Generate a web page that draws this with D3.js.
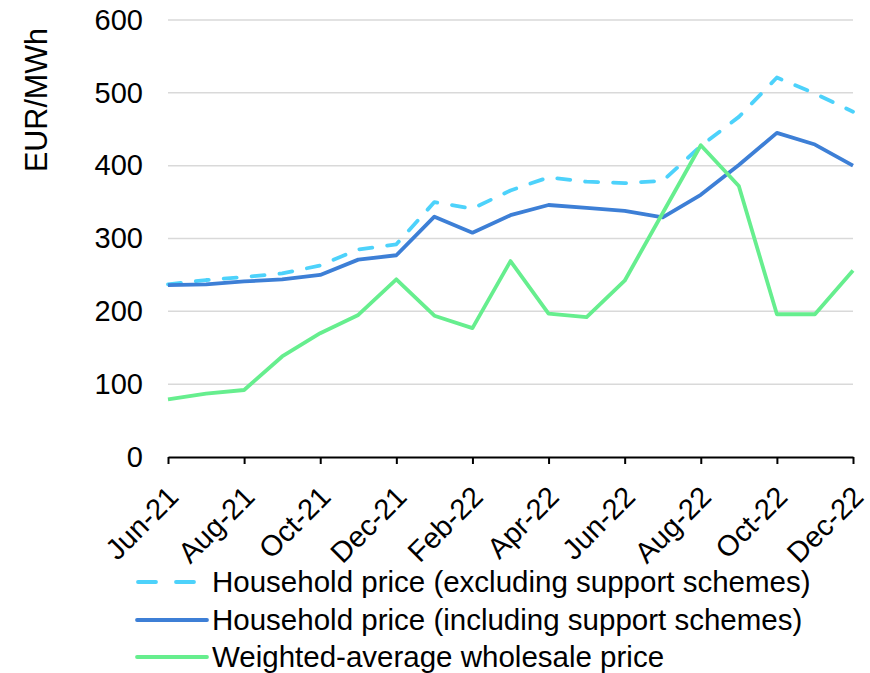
<!DOCTYPE html>
<html>
<head>
<meta charset="utf-8">
<script src="https://cdn.jsdelivr.net/npm/d3@7"></script>
<style>
  html, body { margin: 0; padding: 0; background: #fff; }
  svg { display: block; font-family: "Liberation Sans", Arial, sans-serif; }
</style>
</head>
<body>
<svg id="chart" width="870" height="673"></svg>
<script>
// Monthly prices, EUR/MWh
const months = ["Jun-21","Jul-21","Aug-21","Sep-21","Oct-21","Nov-21","Dec-21",
  "Jan-22","Feb-22","Mar-22","Apr-22","May-22","Jun-22","Jul-22","Aug-22",
  "Sep-22","Oct-22","Nov-22","Dec-22"];
const householdExcl = [237, 243, 247, 252, 263, 285, 292, 350, 341, 366, 384, 378, 376, 379, 427, 467, 521, 499, 474];
const householdIncl = [236, 237, 241, 244, 250, 271, 277, 330, 308, 332, 346, 342, 338, 329, 360, 401, 445, 429, 400];
const wholesale     = [79, 87, 92, 138, 170, 195, 244, 194, 177, 269, 197, 192, 242, 335, 428, 372, 196, 196, 256];
const yTicks = [0, 100, 200, 300, 400, 500, 600];
const xTickLabels = ["Jun-21","Aug-21","Oct-21","Dec-21","Feb-22","Apr-22","Jun-22","Aug-22","Oct-22","Dec-22"];

const series = [
  { name: "Household price (excluding support schemes)", values: householdExcl, color: "#4dd2fb", dash: "13,15" },
  { name: "Household price (including support schemes)", values: householdIncl, color: "#3d7fd6", dash: null },
  { name: "Weighted-average wholesale price", values: wholesale, color: "#66ee8e", dash: null }
];

const svg = d3.select("#chart");
const plot = { left: 168, right: 853, top: 20, bottom: 457 };
const fontSize = 29;

const x = d3.scalePoint().domain(months).range([plot.left, plot.right]);
const y = d3.scaleLinear().domain([0, 600]).range([plot.bottom, plot.top]);

// Horizontal gridlines
svg.append("g")
  .selectAll("line")
  .data(yTicks.filter(d => d > 0))
  .join("line")
  .attr("x1", plot.left).attr("x2", plot.right)
  .attr("y1", d => y(d)).attr("y2", d => y(d))
  .attr("stroke", "#d9d9d9").attr("stroke-width", 1.5);

// Y axis labels
const yAxis = d3.axisLeft(y).tickValues(yTicks).tickSize(0).tickPadding(25);
const gy = svg.append("g").attr("transform", `translate(${plot.left},0)`).call(yAxis);
gy.select(".domain").remove();
gy.selectAll("text").attr("font-size", fontSize).attr("font-family", "Liberation Sans, Arial, sans-serif").attr("fill", "#000");

// X axis
const xAxis = d3.axisBottom(x).tickValues(xTickLabels).tickSize(7).tickSizeOuter(0);
const gx = svg.append("g").attr("transform", `translate(0,${plot.bottom})`).call(xAxis);
gx.select(".domain").attr("stroke", "#000").attr("stroke-width", 2);
gx.selectAll(".tick line").attr("stroke", "#000").attr("stroke-width", 2);
gx.selectAll("text")
  .attr("font-size", fontSize)
  .attr("font-family", "Liberation Sans, Arial, sans-serif")
  .attr("fill", "#000")
  .attr("text-anchor", "end")
  .attr("dy", null)
  .attr("y", 0)
  .attr("transform", "translate(-3,27) rotate(-45)")
  .attr("dominant-baseline", "hanging");

// Y axis title
svg.append("text")
  .attr("transform", `translate(47,100) rotate(-90)`)
  .attr("text-anchor", "middle")
  .attr("font-size", 30.5)
  .attr("fill", "#000")
  .text("EUR/MWh");

// Lines
const line = d3.line().x((d, i) => x(months[i])).y(d => y(d));
svg.append("g")
  .selectAll("path")
  .data(series)
  .join("path")
  .attr("d", d => line(d.values))
  .attr("fill", "none")
  .attr("stroke", d => d.color)
  .attr("stroke-width", 3.8)
  .attr("stroke-linejoin", "round")
  .attr("stroke-linecap", d => d.dash ? "round" : "butt")
  .attr("stroke-dasharray", d => d.dash);

// Legend
const legend = svg.append("g");
const rows = [582, 620, 657];
series.forEach((s, i) => {
  const g = legend.append("g").attr("transform", `translate(0,${rows[i]})`);
  if (s.dash) {
    g.append("line").attr("x1", 138).attr("x2", 196).attr("y1", 0).attr("y2", 0)
      .attr("stroke", s.color).attr("stroke-width", 3.8)
      .attr("stroke-linecap", "round").attr("stroke-dasharray", "18,20");
  } else {
    g.append("line").attr("x1", 137).attr("x2", 207).attr("y1", 0).attr("y2", 0)
      .attr("stroke", s.color).attr("stroke-width", 3.8).attr("stroke-linecap", "round");
  }
  g.append("text").attr("x", 212).attr("y", 0).attr("dy", "0.35em")
    .attr("font-size", 29.5).attr("fill", "#000").text(s.name);
});
</script>
</body>
</html>
